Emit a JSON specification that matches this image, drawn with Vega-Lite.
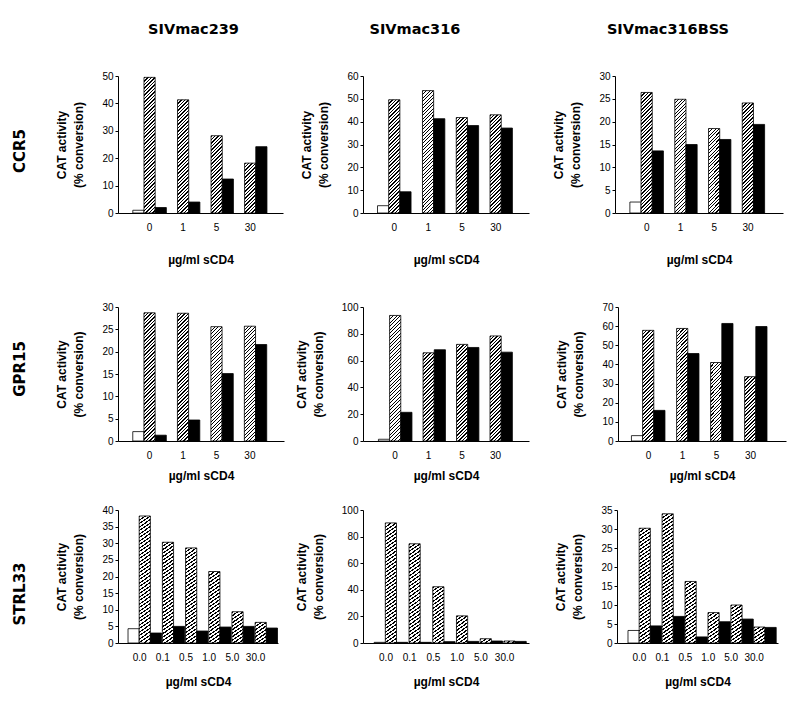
{
"$schema":"https://vega.github.io/schema/vega-lite/v6.json",
"background":"white",
"padding":{"left":12,"top":21,"right":5,"bottom":5},
"params":[{"name":"hs","value":[
{"offset":0,"color":"#000"},{"offset":0.0078,"color":"#000"},{"offset":0.0078,"color":"#fff"},
{"offset":0.0194,"color":"#fff"},{"offset":0.0194,"color":"#000"},{"offset":0.0272,"color":"#000"},{"offset":0.0272,"color":"#fff"},
{"offset":0.0389,"color":"#fff"},{"offset":0.0389,"color":"#000"},{"offset":0.0467,"color":"#000"},{"offset":0.0467,"color":"#fff"},
{"offset":0.0583,"color":"#fff"},{"offset":0.0583,"color":"#000"},{"offset":0.0661,"color":"#000"},{"offset":0.0661,"color":"#fff"},
{"offset":0.0778,"color":"#fff"},{"offset":0.0778,"color":"#000"},{"offset":0.0856,"color":"#000"},{"offset":0.0856,"color":"#fff"},
{"offset":0.0972,"color":"#fff"},{"offset":0.0972,"color":"#000"},{"offset":0.105,"color":"#000"},{"offset":0.105,"color":"#fff"},
{"offset":0.1167,"color":"#fff"},{"offset":0.1167,"color":"#000"},{"offset":0.1245,"color":"#000"},{"offset":0.1245,"color":"#fff"},
{"offset":0.1361,"color":"#fff"},{"offset":0.1361,"color":"#000"},{"offset":0.1439,"color":"#000"},{"offset":0.1439,"color":"#fff"},
{"offset":0.1556,"color":"#fff"},{"offset":0.1556,"color":"#000"},{"offset":0.1634,"color":"#000"},{"offset":0.1634,"color":"#fff"},
{"offset":0.175,"color":"#fff"},{"offset":0.175,"color":"#000"},{"offset":0.1828,"color":"#000"},{"offset":0.1828,"color":"#fff"},
{"offset":0.1944,"color":"#fff"},{"offset":0.1944,"color":"#000"},{"offset":0.2022,"color":"#000"},{"offset":0.2022,"color":"#fff"},
{"offset":0.2139,"color":"#fff"},{"offset":0.2139,"color":"#000"},{"offset":0.2217,"color":"#000"},{"offset":0.2217,"color":"#fff"},
{"offset":0.2333,"color":"#fff"},{"offset":0.2333,"color":"#000"},{"offset":0.2411,"color":"#000"},{"offset":0.2411,"color":"#fff"},
{"offset":0.2528,"color":"#fff"},{"offset":0.2528,"color":"#000"},{"offset":0.2606,"color":"#000"},{"offset":0.2606,"color":"#fff"},
{"offset":0.2722,"color":"#fff"},{"offset":0.2722,"color":"#000"},{"offset":0.28,"color":"#000"},{"offset":0.28,"color":"#fff"},
{"offset":0.2917,"color":"#fff"},{"offset":0.2917,"color":"#000"},{"offset":0.2995,"color":"#000"},{"offset":0.2995,"color":"#fff"},
{"offset":0.3111,"color":"#fff"},{"offset":0.3111,"color":"#000"},{"offset":0.3189,"color":"#000"},{"offset":0.3189,"color":"#fff"},
{"offset":0.3306,"color":"#fff"},{"offset":0.3306,"color":"#000"},{"offset":0.3384,"color":"#000"},{"offset":0.3384,"color":"#fff"},
{"offset":0.35,"color":"#fff"},{"offset":0.35,"color":"#000"},{"offset":0.3578,"color":"#000"},{"offset":0.3578,"color":"#fff"},
{"offset":0.3694,"color":"#fff"},{"offset":0.3694,"color":"#000"},{"offset":0.3772,"color":"#000"},{"offset":0.3772,"color":"#fff"},
{"offset":0.3889,"color":"#fff"},{"offset":0.3889,"color":"#000"},{"offset":0.3967,"color":"#000"},{"offset":0.3967,"color":"#fff"},
{"offset":0.4083,"color":"#fff"},{"offset":0.4083,"color":"#000"},{"offset":0.4161,"color":"#000"},{"offset":0.4161,"color":"#fff"},
{"offset":0.4278,"color":"#fff"},{"offset":0.4278,"color":"#000"},{"offset":0.4356,"color":"#000"},{"offset":0.4356,"color":"#fff"},
{"offset":0.4472,"color":"#fff"},{"offset":0.4472,"color":"#000"},{"offset":0.455,"color":"#000"},{"offset":0.455,"color":"#fff"},
{"offset":0.4667,"color":"#fff"},{"offset":0.4667,"color":"#000"},{"offset":0.4745,"color":"#000"},{"offset":0.4745,"color":"#fff"},
{"offset":0.4861,"color":"#fff"},{"offset":0.4861,"color":"#000"},{"offset":0.4939,"color":"#000"},{"offset":0.4939,"color":"#fff"},
{"offset":0.5056,"color":"#fff"},{"offset":0.5056,"color":"#000"},{"offset":0.5134,"color":"#000"},{"offset":0.5134,"color":"#fff"},
{"offset":0.525,"color":"#fff"},{"offset":0.525,"color":"#000"},{"offset":0.5328,"color":"#000"},{"offset":0.5328,"color":"#fff"},
{"offset":0.5444,"color":"#fff"},{"offset":0.5444,"color":"#000"},{"offset":0.5522,"color":"#000"},{"offset":0.5522,"color":"#fff"},
{"offset":0.5639,"color":"#fff"},{"offset":0.5639,"color":"#000"},{"offset":0.5717,"color":"#000"},{"offset":0.5717,"color":"#fff"},
{"offset":0.5833,"color":"#fff"},{"offset":0.5833,"color":"#000"},{"offset":0.5911,"color":"#000"},{"offset":0.5911,"color":"#fff"},
{"offset":0.6028,"color":"#fff"},{"offset":0.6028,"color":"#000"},{"offset":0.6106,"color":"#000"},{"offset":0.6106,"color":"#fff"},
{"offset":0.6222,"color":"#fff"},{"offset":0.6222,"color":"#000"},{"offset":0.63,"color":"#000"},{"offset":0.63,"color":"#fff"},
{"offset":0.6417,"color":"#fff"},{"offset":0.6417,"color":"#000"},{"offset":0.6495,"color":"#000"},{"offset":0.6495,"color":"#fff"},
{"offset":0.6611,"color":"#fff"},{"offset":0.6611,"color":"#000"},{"offset":0.6689,"color":"#000"},{"offset":0.6689,"color":"#fff"},
{"offset":0.6806,"color":"#fff"},{"offset":0.6806,"color":"#000"},{"offset":0.6884,"color":"#000"},{"offset":0.6884,"color":"#fff"},
{"offset":0.7,"color":"#fff"},{"offset":0.7,"color":"#000"},{"offset":0.7078,"color":"#000"},{"offset":0.7078,"color":"#fff"},
{"offset":0.7194,"color":"#fff"},{"offset":0.7194,"color":"#000"},{"offset":0.7272,"color":"#000"},{"offset":0.7272,"color":"#fff"},
{"offset":0.7389,"color":"#fff"},{"offset":0.7389,"color":"#000"},{"offset":0.7467,"color":"#000"},{"offset":0.7467,"color":"#fff"},
{"offset":0.7583,"color":"#fff"},{"offset":0.7583,"color":"#000"},{"offset":0.7661,"color":"#000"},{"offset":0.7661,"color":"#fff"},
{"offset":0.7778,"color":"#fff"},{"offset":0.7778,"color":"#000"},{"offset":0.7856,"color":"#000"},{"offset":0.7856,"color":"#fff"},
{"offset":0.7972,"color":"#fff"},{"offset":0.7972,"color":"#000"},{"offset":0.805,"color":"#000"},{"offset":0.805,"color":"#fff"},
{"offset":0.8167,"color":"#fff"},{"offset":0.8167,"color":"#000"},{"offset":0.8245,"color":"#000"},{"offset":0.8245,"color":"#fff"},
{"offset":0.8361,"color":"#fff"},{"offset":0.8361,"color":"#000"},{"offset":0.8439,"color":"#000"},{"offset":0.8439,"color":"#fff"},
{"offset":0.8556,"color":"#fff"},{"offset":0.8556,"color":"#000"},{"offset":0.8634,"color":"#000"},{"offset":0.8634,"color":"#fff"},
{"offset":0.875,"color":"#fff"},{"offset":0.875,"color":"#000"},{"offset":0.8828,"color":"#000"},{"offset":0.8828,"color":"#fff"},
{"offset":0.8944,"color":"#fff"},{"offset":0.8944,"color":"#000"},{"offset":0.9022,"color":"#000"},{"offset":0.9022,"color":"#fff"},
{"offset":0.9139,"color":"#fff"},{"offset":0.9139,"color":"#000"},{"offset":0.9217,"color":"#000"},{"offset":0.9217,"color":"#fff"},
{"offset":0.9333,"color":"#fff"},{"offset":0.9333,"color":"#000"},{"offset":0.9411,"color":"#000"},{"offset":0.9411,"color":"#fff"},
{"offset":0.9528,"color":"#fff"},{"offset":0.9528,"color":"#000"},{"offset":0.9606,"color":"#000"},{"offset":0.9606,"color":"#fff"},
{"offset":0.9722,"color":"#fff"},{"offset":0.9722,"color":"#000"},{"offset":0.98,"color":"#000"},{"offset":0.98,"color":"#fff"},
{"offset":0.9917,"color":"#fff"},{"offset":0.9917,"color":"#000"},{"offset":0.9995,"color":"#000"},{"offset":0.9995,"color":"#fff"},{"offset":1,"color":"#fff"}
]}],
"data":{"values":[
{"receptor":"CCR5","virus":"SIVmac239","dose":"0","series":"open","value":1.0},
{"receptor":"CCR5","virus":"SIVmac239","dose":"0","series":"hatched","value":49.5},
{"receptor":"CCR5","virus":"SIVmac239","dose":"0","series":"filled","value":2.0},
{"receptor":"CCR5","virus":"SIVmac239","dose":"1","series":"hatched","value":41.3},
{"receptor":"CCR5","virus":"SIVmac239","dose":"1","series":"filled","value":4.0},
{"receptor":"CCR5","virus":"SIVmac239","dose":"5","series":"hatched","value":28.2},
{"receptor":"CCR5","virus":"SIVmac239","dose":"5","series":"filled","value":12.4},
{"receptor":"CCR5","virus":"SIVmac239","dose":"30","series":"hatched","value":18.2},
{"receptor":"CCR5","virus":"SIVmac239","dose":"30","series":"filled","value":24.2},
{"receptor":"CCR5","virus":"SIVmac316","dose":"0","series":"open","value":3.2},
{"receptor":"CCR5","virus":"SIVmac316","dose":"0","series":"hatched","value":49.6},
{"receptor":"CCR5","virus":"SIVmac316","dose":"0","series":"filled","value":9.3},
{"receptor":"CCR5","virus":"SIVmac316","dose":"1","series":"hatched","value":53.6},
{"receptor":"CCR5","virus":"SIVmac316","dose":"1","series":"filled","value":41.3},
{"receptor":"CCR5","virus":"SIVmac316","dose":"5","series":"hatched","value":41.8},
{"receptor":"CCR5","virus":"SIVmac316","dose":"5","series":"filled","value":38.3},
{"receptor":"CCR5","virus":"SIVmac316","dose":"30","series":"hatched","value":43.0},
{"receptor":"CCR5","virus":"SIVmac316","dose":"30","series":"filled","value":37.2},
{"receptor":"CCR5","virus":"SIVmac316BSS","dose":"0","series":"open","value":2.4},
{"receptor":"CCR5","virus":"SIVmac316BSS","dose":"0","series":"hatched","value":26.4},
{"receptor":"CCR5","virus":"SIVmac316BSS","dose":"0","series":"filled","value":13.6},
{"receptor":"CCR5","virus":"SIVmac316BSS","dose":"1","series":"hatched","value":24.9},
{"receptor":"CCR5","virus":"SIVmac316BSS","dose":"1","series":"filled","value":15.0},
{"receptor":"CCR5","virus":"SIVmac316BSS","dose":"5","series":"hatched","value":18.5},
{"receptor":"CCR5","virus":"SIVmac316BSS","dose":"5","series":"filled","value":16.1},
{"receptor":"CCR5","virus":"SIVmac316BSS","dose":"30","series":"hatched","value":24.1},
{"receptor":"CCR5","virus":"SIVmac316BSS","dose":"30","series":"filled","value":19.4},
{"receptor":"GPR15","virus":"SIVmac239","dose":"0","series":"open","value":2.1},
{"receptor":"GPR15","virus":"SIVmac239","dose":"0","series":"hatched","value":28.7},
{"receptor":"GPR15","virus":"SIVmac239","dose":"0","series":"filled","value":1.3},
{"receptor":"GPR15","virus":"SIVmac239","dose":"1","series":"hatched","value":28.6},
{"receptor":"GPR15","virus":"SIVmac239","dose":"1","series":"filled","value":4.7},
{"receptor":"GPR15","virus":"SIVmac239","dose":"5","series":"hatched","value":25.6},
{"receptor":"GPR15","virus":"SIVmac239","dose":"5","series":"filled","value":15.1},
{"receptor":"GPR15","virus":"SIVmac239","dose":"30","series":"hatched","value":25.7},
{"receptor":"GPR15","virus":"SIVmac239","dose":"30","series":"filled","value":21.6},
{"receptor":"GPR15","virus":"SIVmac316","dose":"0","series":"open","value":1.3},
{"receptor":"GPR15","virus":"SIVmac316","dose":"0","series":"hatched","value":93.7},
{"receptor":"GPR15","virus":"SIVmac316","dose":"0","series":"filled","value":21.4},
{"receptor":"GPR15","virus":"SIVmac316","dose":"1","series":"hatched","value":65.8},
{"receptor":"GPR15","virus":"SIVmac316","dose":"1","series":"filled","value":68.1},
{"receptor":"GPR15","virus":"SIVmac316","dose":"5","series":"hatched","value":72.1},
{"receptor":"GPR15","virus":"SIVmac316","dose":"5","series":"filled","value":69.8},
{"receptor":"GPR15","virus":"SIVmac316","dose":"30","series":"hatched","value":78.4},
{"receptor":"GPR15","virus":"SIVmac316","dose":"30","series":"filled","value":66.3},
{"receptor":"GPR15","virus":"SIVmac316BSS","dose":"0","series":"open","value":2.8},
{"receptor":"GPR15","virus":"SIVmac316BSS","dose":"0","series":"hatched","value":57.8},
{"receptor":"GPR15","virus":"SIVmac316BSS","dose":"0","series":"filled","value":16.0},
{"receptor":"GPR15","virus":"SIVmac316BSS","dose":"1","series":"hatched","value":58.8},
{"receptor":"GPR15","virus":"SIVmac316BSS","dose":"1","series":"filled","value":45.7},
{"receptor":"GPR15","virus":"SIVmac316BSS","dose":"5","series":"hatched","value":41.0},
{"receptor":"GPR15","virus":"SIVmac316BSS","dose":"5","series":"filled","value":61.4},
{"receptor":"GPR15","virus":"SIVmac316BSS","dose":"30","series":"hatched","value":33.6},
{"receptor":"GPR15","virus":"SIVmac316BSS","dose":"30","series":"filled","value":59.8},
{"receptor":"STRL33","virus":"SIVmac239","dose":"0.0","series":"open","value":4.3},
{"receptor":"STRL33","virus":"SIVmac239","dose":"0.0","series":"hatched","value":38.2},
{"receptor":"STRL33","virus":"SIVmac239","dose":"0.0","series":"filled","value":3.0},
{"receptor":"STRL33","virus":"SIVmac239","dose":"0.1","series":"hatched","value":30.3},
{"receptor":"STRL33","virus":"SIVmac239","dose":"0.1","series":"filled","value":5.0},
{"receptor":"STRL33","virus":"SIVmac239","dose":"0.5","series":"hatched","value":28.6},
{"receptor":"STRL33","virus":"SIVmac239","dose":"0.5","series":"filled","value":3.6},
{"receptor":"STRL33","virus":"SIVmac239","dose":"1.0","series":"hatched","value":21.5},
{"receptor":"STRL33","virus":"SIVmac239","dose":"1.0","series":"filled","value":4.8},
{"receptor":"STRL33","virus":"SIVmac239","dose":"5.0","series":"hatched","value":9.4},
{"receptor":"STRL33","virus":"SIVmac239","dose":"5.0","series":"filled","value":5.0},
{"receptor":"STRL33","virus":"SIVmac239","dose":"30.0","series":"hatched","value":6.2},
{"receptor":"STRL33","virus":"SIVmac239","dose":"30.0","series":"filled","value":4.5},
{"receptor":"STRL33","virus":"SIVmac316","dose":"0.0","series":"open","value":0.5},
{"receptor":"STRL33","virus":"SIVmac316","dose":"0.0","series":"hatched","value":90.3},
{"receptor":"STRL33","virus":"SIVmac316","dose":"0.0","series":"filled","value":0.5},
{"receptor":"STRL33","virus":"SIVmac316","dose":"0.1","series":"hatched","value":74.6},
{"receptor":"STRL33","virus":"SIVmac316","dose":"0.1","series":"filled","value":0.5},
{"receptor":"STRL33","virus":"SIVmac316","dose":"0.5","series":"hatched","value":42.3},
{"receptor":"STRL33","virus":"SIVmac316","dose":"0.5","series":"filled","value":1.0},
{"receptor":"STRL33","virus":"SIVmac316","dose":"1.0","series":"hatched","value":20.4},
{"receptor":"STRL33","virus":"SIVmac316","dose":"1.0","series":"filled","value":1.2},
{"receptor":"STRL33","virus":"SIVmac316","dose":"5.0","series":"hatched","value":3.2},
{"receptor":"STRL33","virus":"SIVmac316","dose":"5.0","series":"filled","value":1.5},
{"receptor":"STRL33","virus":"SIVmac316","dose":"30.0","series":"hatched","value":1.5},
{"receptor":"STRL33","virus":"SIVmac316","dose":"30.0","series":"filled","value":1.2},
{"receptor":"STRL33","virus":"SIVmac316BSS","dose":"0.0","series":"open","value":3.3},
{"receptor":"STRL33","virus":"SIVmac316BSS","dose":"0.0","series":"hatched","value":30.2},
{"receptor":"STRL33","virus":"SIVmac316BSS","dose":"0.0","series":"filled","value":4.5},
{"receptor":"STRL33","virus":"SIVmac316BSS","dose":"0.1","series":"hatched","value":34.0},
{"receptor":"STRL33","virus":"SIVmac316BSS","dose":"0.1","series":"filled","value":7.0},
{"receptor":"STRL33","virus":"SIVmac316BSS","dose":"0.5","series":"hatched","value":16.2},
{"receptor":"STRL33","virus":"SIVmac316BSS","dose":"0.5","series":"filled","value":1.6},
{"receptor":"STRL33","virus":"SIVmac316BSS","dose":"1.0","series":"hatched","value":8.0},
{"receptor":"STRL33","virus":"SIVmac316BSS","dose":"1.0","series":"filled","value":5.6},
{"receptor":"STRL33","virus":"SIVmac316BSS","dose":"5.0","series":"hatched","value":10.0},
{"receptor":"STRL33","virus":"SIVmac316BSS","dose":"5.0","series":"filled","value":6.3},
{"receptor":"STRL33","virus":"SIVmac316BSS","dose":"30.0","series":"hatched","value":4.2},
{"receptor":"STRL33","virus":"SIVmac316BSS","dose":"30.0","series":"filled","value":4.1}
]},
"config":{
"view":{"stroke":null},
"axis":{"labelFont":"Liberation Sans","labelFontSize":10,"labelColor":"#000","titleFont":"Liberation Sans","titleFontSize":12,"titleFontWeight":"bold","titleColor":"#000","domainColor":"#000","tickColor":"#000","grid":false},
"axisX":{"ticks":false,"tickSize":0,"labelAngle":0,"labelPadding":9},
"axisY":{"tickSize":3,"labelPadding":2,"titleLineHeight":17,"titlePadding":16},
"title":{"font":"DejaVu Sans","fontSize":14.5,"fontWeight":"bold","color":"#000"}
},
"spacing":37,
"vconcat":[
{"title":{"text":"CCR5","orient":"left","anchor":"middle","frame":"group","fontSize":15,"offset":28,"dx":-75},
 "spacing":80,"bounds":"flush",
 "hconcat":[
 {"title":{"text":"SIVmac239","anchor":"middle","frame":"group","dx":-7,"offset":34},
  "width":165,"height":137,
  "transform":[{"filter":"datum.receptor=='CCR5' && datum.virus=='SIVmac239'"}],
  "mark":{"type":"bar","stroke":"#000","strokeWidth":0.8,"fill":{"expr":"datum.series=='filled'?'#000':datum.series=='open'?'#fff':{gradient:'linear',x1:0,y1:0,x2:180*11.17/(124.7+pow(datum.value*2.74,2)),y2:180*datum.value*2.74/(124.7+pow(datum.value*2.74,2)),stops:hs}"}},
  "encoding":{
   "x":{"field":"dose","type":"ordinal","scale":{"domain":["0","1","5","30"],"paddingInner":0,"paddingOuter":0.46,"align":0.48},"axis":{"title":"µg/ml sCD4","titlePadding":22}},
   "xOffset":{"field":"series","type":"nominal","scale":{"domain":["open","hatched","filled"],"paddingInner":0,"paddingOuter":0}},
   "y":{"field":"value","type":"quantitative","scale":{"domain":[0,50],"nice":false},"axis":{"values":[0,10,20,30,40,50],"title":["CAT activity","(% conversion)"]}}
  }},
 {"spacing":86,"bounds":"flush","hconcat":[
  {"title":{"text":"SIVmac316","anchor":"middle","frame":"bounds","offset":34},
   "width":166,"height":137,
   "transform":[{"filter":"datum.receptor=='CCR5' && datum.virus=='SIVmac316'"}],
   "mark":{"type":"bar","stroke":"#000","strokeWidth":0.8,"fill":{"expr":"datum.series=='filled'?'#000':datum.series=='open'?'#fff':{gradient:'linear',x1:0,y1:0,x2:180*11.27/(127+pow(datum.value*2.283,2)),y2:180*datum.value*2.283/(127+pow(datum.value*2.283,2)),stops:hs}"}},
   "encoding":{
    "x":{"field":"dose","type":"ordinal","scale":{"domain":["0","1","5","30"],"paddingInner":0,"paddingOuter":0.457,"align":0.47},"axis":{"title":"µg/ml sCD4","titlePadding":22}},
    "xOffset":{"field":"series","type":"nominal","scale":{"domain":["open","hatched","filled"],"paddingInner":0,"paddingOuter":0}},
    "y":{"field":"value","type":"quantitative","scale":{"domain":[0,60],"nice":false},"axis":{"values":[0,10,20,30,40,50,60],"title":["CAT activity","(% conversion)"]}}
   }},
  {"title":{"text":"SIVmac316BSS","anchor":"middle","frame":"bounds","offset":34},
   "width":168,"height":137,
   "transform":[{"filter":"datum.receptor=='CCR5' && datum.virus=='SIVmac316BSS'"}],
   "mark":{"type":"bar","stroke":"#000","strokeWidth":0.8,"fill":{"expr":"datum.series=='filled'?'#000':datum.series=='open'?'#fff':{gradient:'linear',x1:0,y1:0,x2:180*11.25/(126.6+pow(datum.value*4.567,2)),y2:180*datum.value*4.567/(126.6+pow(datum.value*4.567,2)),stops:hs}"}},
   "encoding":{
    "x":{"field":"dose","type":"ordinal","scale":{"domain":["0","1","5","30"],"paddingInner":0,"paddingOuter":0.49,"align":0.45},"axis":{"title":"µg/ml sCD4","titlePadding":22}},
    "xOffset":{"field":"series","type":"nominal","scale":{"domain":["open","hatched","filled"],"paddingInner":0,"paddingOuter":0}},
    "y":{"field":"value","type":"quantitative","scale":{"domain":[0,30],"nice":false},"axis":{"values":[0,5,10,15,20,25,30],"title":["CAT activity","(% conversion)"]}}
   }}
 ]}
 ]},
{"spacing":24,"vconcat":[
{"title":{"text":"GPR15","orient":"left","anchor":"middle","frame":"group","fontSize":15,"offset":28,"dx":-62},
 "spacing":79,"bounds":"flush",
 "hconcat":[
 {"width":166,"height":134,
  "transform":[{"filter":"datum.receptor=='GPR15' && datum.virus=='SIVmac239'"}],
  "mark":{"type":"bar","stroke":"#000","strokeWidth":0.8,"fill":{"expr":"datum.series=='filled'?'#000':datum.series=='open'?'#fff':{gradient:'linear',x1:0,y1:0,x2:180*11.17/(124.7+pow(datum.value*4.467,2)),y2:180*datum.value*4.467/(124.7+pow(datum.value*4.467,2)),stops:hs}"}},
  "encoding":{
   "x":{"field":"dose","type":"ordinal","scale":{"domain":["0","1","5","30"],"paddingInner":0,"paddingOuter":0.48,"align":0.46},"axis":{"title":"µg/ml sCD4","titlePadding":10}},
   "xOffset":{"field":"series","type":"nominal","scale":{"domain":["open","hatched","filled"],"paddingInner":0,"paddingOuter":0}},
   "y":{"field":"value","type":"quantitative","scale":{"domain":[0,30],"nice":false},"axis":{"values":[0,5,10,15,20,25,30],"title":["CAT activity","(% conversion)"]}}
  }},
 {"spacing":89,"bounds":"flush","hconcat":[
  {"width":166,"height":134,
   "transform":[{"filter":"datum.receptor=='GPR15' && datum.virus=='SIVmac316'"}],
   "mark":{"type":"bar","stroke":"#000","strokeWidth":0.8,"fill":{"expr":"datum.series=='filled'?'#000':datum.series=='open'?'#fff':{gradient:'linear',x1:0,y1:0,x2:180*11.15/(124.3+pow(datum.value*1.34,2)),y2:180*datum.value*1.34/(124.3+pow(datum.value*1.34,2)),stops:hs}"}},
   "encoding":{
    "x":{"field":"dose","type":"ordinal","scale":{"domain":["0","1","5","30"],"paddingInner":0,"paddingOuter":0.48,"align":0.48},"axis":{"title":"µg/ml sCD4","titlePadding":10}},
    "xOffset":{"field":"series","type":"nominal","scale":{"domain":["open","hatched","filled"],"paddingInner":0,"paddingOuter":0}},
    "y":{"field":"value","type":"quantitative","scale":{"domain":[0,100],"nice":false},"axis":{"values":[0,20,40,60,80,100],"title":["CAT activity","(% conversion)"]}}
   }},
  {"width":168,"height":134,
   "transform":[{"filter":"datum.receptor=='GPR15' && datum.virus=='SIVmac316BSS'"}],
   "mark":{"type":"bar","stroke":"#000","strokeWidth":0.8,"fill":{"expr":"datum.series=='filled'?'#000':datum.series=='open'?'#fff':{gradient:'linear',x1:0,y1:0,x2:180*11.35/(128.8+pow(datum.value*1.914,2)),y2:180*datum.value*1.914/(128.8+pow(datum.value*1.914,2)),stops:hs}"}},
   "encoding":{
    "x":{"field":"dose","type":"ordinal","scale":{"domain":["0","1","5","30"],"paddingInner":0,"paddingOuter":0.47,"align":0.42},"axis":{"title":"µg/ml sCD4","titlePadding":10}},
    "xOffset":{"field":"series","type":"nominal","scale":{"domain":["open","hatched","filled"],"paddingInner":0,"paddingOuter":0}},
    "y":{"field":"value","type":"quantitative","scale":{"domain":[0,70],"nice":false},"axis":{"values":[0,10,20,30,40,50,60,70],"title":["CAT activity","(% conversion)"]}}
   }}
 ]}
 ]},
{"title":{"text":"STRL33","orient":"left","anchor":"middle","frame":"group","fontSize":15,"offset":28,"dx":-84},
 "spacing":85,"bounds":"flush",
 "hconcat":[
 {"width":160,"height":133,
  "transform":[{"filter":"datum.receptor=='STRL33' && datum.virus=='SIVmac239'"}],
  "mark":{"type":"bar","stroke":"#000","strokeWidth":0.8,"fill":{"expr":"datum.series=='filled'?'#000':datum.series=='open'?'#fff':{gradient:'linear',x1:0,y1:0,x2:180*7.72/(59.6+pow(datum.value*3.325,2)),y2:180*datum.value*3.325/(59.6+pow(datum.value*3.325,2)),stops:hs}"}},
  "encoding":{
   "x":{"field":"dose","type":"ordinal","scale":{"domain":["0.0","0.1","0.5","1.0","5.0","30.0"],"paddingInner":0,"paddingOuter":0.45,"align":0.48},"axis":{"title":"µg/ml sCD4","titlePadding":14}},
   "xOffset":{"field":"series","type":"nominal","scale":{"domain":["open","hatched","filled"],"paddingInner":0,"paddingOuter":0}},
   "y":{"field":"value","type":"quantitative","scale":{"domain":[0,40],"nice":false},"axis":{"values":[0,5,10,15,20,25,30,35,40],"title":["CAT activity","(% conversion)"]}}
  }},
 {"spacing":88,"bounds":"flush","hconcat":[
  {"width":166,"height":133,
   "transform":[{"filter":"datum.receptor=='STRL33' && datum.virus=='SIVmac316'"}],
   "mark":{"type":"bar","stroke":"#000","strokeWidth":0.8,"fill":{"expr":"datum.series=='filled'?'#000':datum.series=='open'?'#fff':{gradient:'linear',x1:0,y1:0,x2:180*7.9/(62.4+pow(datum.value*1.33,2)),y2:180*datum.value*1.33/(62.4+pow(datum.value*1.33,2)),stops:hs}"}},
   "encoding":{
    "x":{"field":"dose","type":"ordinal","scale":{"domain":["0.0","0.1","0.5","1.0","5.0","30.0"],"paddingInner":0,"paddingOuter":0.5,"align":0.47},"axis":{"title":"µg/ml sCD4","titlePadding":14}},
    "xOffset":{"field":"series","type":"nominal","scale":{"domain":["open","hatched","filled"],"paddingInner":0,"paddingOuter":0}},
    "y":{"field":"value","type":"quantitative","scale":{"domain":[0,100],"nice":false},"axis":{"values":[0,20,40,60,80,100],"title":["CAT activity","(% conversion)"]}}
   }},
  {"width":161,"height":133,
   "transform":[{"filter":"datum.receptor=='STRL33' && datum.virus=='SIVmac316BSS'"}],
   "mark":{"type":"bar","stroke":"#000","strokeWidth":0.8,"fill":{"expr":"datum.series=='filled'?'#000':datum.series=='open'?'#fff':{gradient:'linear',x1:0,y1:0,x2:180*7.65/(58.5+pow(datum.value*3.8,2)),y2:180*datum.value*3.8/(58.5+pow(datum.value*3.8,2)),stops:hs}"}},
   "encoding":{
    "x":{"field":"dose","type":"ordinal","scale":{"domain":["0.0","0.1","0.5","1.0","5.0","30.0"],"paddingInner":0,"paddingOuter":0.51,"align":0.47},"axis":{"title":"µg/ml sCD4","titlePadding":14}},
    "xOffset":{"field":"series","type":"nominal","scale":{"domain":["open","hatched","filled"],"paddingInner":0,"paddingOuter":0}},
    "y":{"field":"value","type":"quantitative","scale":{"domain":[0,35],"nice":false},"axis":{"values":[0,5,10,15,20,25,30,35],"title":["CAT activity","(% conversion)"]}}
   }}
 ]}
 ]}
]}
]
}
